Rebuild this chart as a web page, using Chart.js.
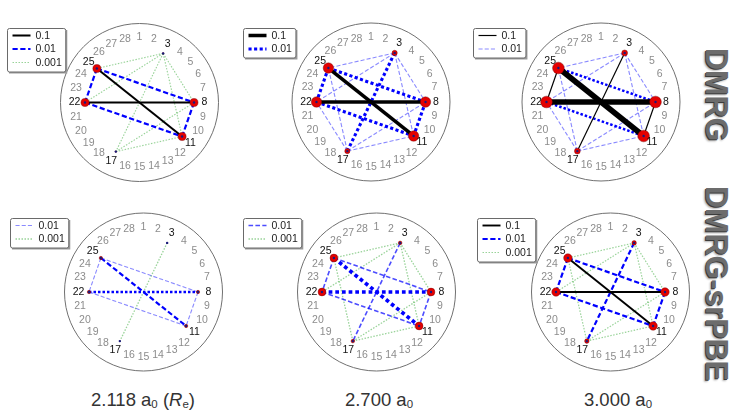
<!DOCTYPE html>
<html>
<head>
<meta charset="utf-8">
<script src="https://cdn.jsdelivr.net/npm/chart.js@4.4.0/dist/chart.umd.min.js"></script>
<style>
  html, body { margin: 0; padding: 0; background: #fff; }
  #wrap { position: relative; width: 732px; height: 410px; overflow: hidden; }
  #wrap canvas { position: absolute; }
  .side { position: absolute; font: bold 30.5px "Liberation Sans", Arial, sans-serif; line-height: 1; color: #6c6c6c;
          transform-origin: 0 0; transform: rotate(90deg); white-space: nowrap;
          text-shadow: 1px 1px 0 #3c3c3c, 2px 2px 2px #b0b0b0; }
  .dist { position: absolute; top: 389px; font: 18.5px "Liberation Sans", Arial, sans-serif; color: #333;
          transform: translateX(-50%); white-space: nowrap; }
  .dist sub { font-size: 62%; vertical-align: -2px; }
</style>
</head>
<body>
<div id="wrap">
  <div class="side" style="left:732px;top:48px">DMRG</div>
  <div class="side" style="left:732px;top:186px">DMRG-srPBE</div>
  <div class="dist" style="left:143px">2.118 a<sub>0</sub> (<i>R</i><sub>e</sub>)</div>
  <div class="dist" style="left:379px">2.700 a<sub>0</sub></div>
  <div class="dist" style="left:618px">3.000 a<sub>0</sub></div>
</div>
<script>
/* ===== Orbital-pair mutual information diagrams (6 panels) ===== */
const N_ORB = 28;
const active = [3, 8, 11, 17, 22, 25];
const thresholds = [0.1, 0.01, 0.001];
const thrLabels = ["0.1", "0.01", "0.001"];

// single-orbital entropies, same order as `active`
const S_dmrg_2118 = [0.12, 0.62, 0.62, 0.12, 0.62, 0.62];
const S_dmrg_2700 = [0.40, 0.80, 0.80, 0.40, 0.80, 0.80];
const S_dmrg_3000 = [0.45, 0.90, 0.90, 0.45, 0.90, 0.90];
const S_sr_2118   = [0.05, 0.26, 0.26, 0.05, 0.26, 0.26];
const S_sr_2700   = [0.28, 0.60, 0.60, 0.28, 0.60, 0.60];
const S_sr_3000   = [0.35, 0.65, 0.65, 0.35, 0.65, 0.65];

// mutual information [orbital i, orbital j, I_ij]
const I_dmrg_2118 = [
  [22, 8, 0.27], [25, 11, 0.27],
  [25, 22, 0.03], [25, 8, 0.03], [22, 11, 0.03], [8, 11, 0.03],
  [3, 25, 0.0012], [3, 22, 0.0012], [3, 8, 0.0012], [3, 11, 0.0012], [3, 17, 0.0012], [17, 8, 0.0012], [17, 11, 0.0012],
];
const I_dmrg_2700 = [
  [22, 8, 0.52], [25, 11, 0.52],
  [3, 17, 0.045], [25, 22, 0.045], [25, 8, 0.045], [22, 11, 0.045], [8, 11, 0.045],
  [3, 25, 0.012], [3, 22, 0.012], [3, 8, 0.012], [3, 11, 0.012], [17, 25, 0.012], [17, 22, 0.012], [17, 8, 0.012], [17, 11, 0.012],
];
const I_dmrg_3000 = [
  [3, 17, 0.13], [22, 8, 0.85], [25, 11, 0.85], [25, 22, 0.13], [8, 11, 0.13],
  [3, 25, 0.012], [25, 8, 0.035], [22, 11, 0.035], [3, 22, 0.012], [3, 8, 0.012], [3, 11, 0.012],
  [17, 25, 0.012], [17, 22, 0.012], [17, 8, 0.012], [17, 11, 0.012],
];
const I_sr_2118 = [
  [25, 22, 0.012], [22, 8, 0.035], [25, 11, 0.03], [25, 8, 0.012], [22, 11, 0.012], [8, 11, 0.012],
  [3, 17, 0.0015],
];
const I_sr_2700 = [
  [25, 22, 0.02], [22, 8, 0.055], [25, 11, 0.055], [25, 8, 0.02], [22, 11, 0.02], [8, 11, 0.02], [3, 17, 0.02],
  [3, 25, 0.0015], [3, 22, 0.0015], [3, 8, 0.0015], [3, 11, 0.0015], [17, 25, 0.0015], [17, 8, 0.0015], [17, 11, 0.0015],
];
const I_sr_3000 = [
  [22, 8, 0.25], [25, 11, 0.25],
  [25, 22, 0.03], [25, 8, 0.03], [22, 11, 0.03], [8, 11, 0.03], [3, 17, 0.03],
  [3, 25, 0.0013], [3, 22, 0.0013], [3, 8, 0.0013], [3, 11, 0.0013], [17, 25, 0.0013], [17, 8, 0.0013], [17, 11, 0.0013],
];

// layout: canvas box, circle centre, legend x (all px)
const panels = [
  { I: I_dmrg_2118, S: S_dmrg_2118, left: 0,   top: 0,   w: 235, h: 190, cx: 139.5, cy: 102.5, lx: 7 },
  { I: I_dmrg_2700, S: S_dmrg_2700, left: 235, top: 0,   w: 235, h: 190, cx: 371,   cy: 102,   lx: 8 },
  { I: I_dmrg_3000, S: S_dmrg_3000, left: 470, top: 0,   w: 225, h: 190, cx: 601,   cy: 102,   lx: 3 },
  { I: I_sr_2118,   S: S_sr_2118,   left: 0,   top: 190, w: 235, h: 190, cx: 143.5, cy: 292,   lx: 10 },
  { I: I_sr_2700,   S: S_sr_2700,   left: 235, top: 190, w: 235, h: 190, cx: 376.5, cy: 292,   lx: 8 },
  { I: I_sr_3000,   S: S_sr_3000,   left: 470, top: 190, w: 225, h: 190, cx: 610.5, cy: 292,   lx: 7 },
];

const R_PX = 79;          // outer circle radius
const R_NODE = 0.69;      // orbital dots (fraction of outer radius)
const R_LABEL = 0.823;    // orbital numbers
const FONT = '"Liberation Sans", Arial, sans-serif';

const pos = (o, r) => {
  const t = (o - 1) * 2 * Math.PI / N_ORB;
  return { x: r * Math.sin(t), y: r * Math.cos(t) };
};

function edgeStyle(I) {
  const k = I >= thresholds[0] ? 0 : I >= thresholds[1] ? 1 : 2;
  const r = I / thresholds[k];
  const w = 0.4 + 0.6 * r;
  if (k === 0) return { k, w, color: "#000", dash: [] };
  if (k === 1) {
    const a = Math.min(1, 0.1 + 0.3 * r);
    return { k, w, color: `rgba(0,0,255,${a})`, dash: w >= 2.4 ? [w, w * 0.8] : [3 + w, 1.5 + w * 0.5] };
  }
  return { k, w, color: "rgba(70,175,70,0.55)", dash: [1.5, 1.5] };
}

const decor = {
  id: "decor",
  beforeDatasetsDraw(chart) {
    const { ctx, scales: { x, y } } = chart;
    const cx = x.getPixelForValue(0), cy = y.getPixelForValue(0);
    ctx.save();
    ctx.beginPath();
    ctx.arc(cx, cy, x.getPixelForValue(1) - cx, 0, 2 * Math.PI);
    ctx.strokeStyle = "#707070"; ctx.lineWidth = 1; ctx.stroke();
    ctx.restore();
  },
  afterDatasetsDraw(chart, args, opts) {
    const { ctx, scales: { x, y } } = chart;
    ctx.save();
    ctx.font = `10.5px ${FONT}`;
    ctx.textAlign = "center"; ctx.textBaseline = "middle";
    for (let o = 1; o <= N_ORB; o++) {
      const p = pos(o, R_LABEL);
      ctx.fillStyle = active.includes(o) ? "#111" : "#8c8c8c";
      ctx.fillText(String(o), x.getPixelForValue(p.x), y.getPixelForValue(p.y));
    }
    // legend: one entry per threshold class, styled like its first edge
    const entries = [];
    thresholds.forEach((t, k) => {
      const e = opts.edges.find((d) => edgeStyle(d[2]).k === k);
      if (e) entries.push({ label: thrLabels[k], st: edgeStyle(e[2]) });
    });
    ctx.textAlign = "left";
    const tw = Math.max(...entries.map((e) => ctx.measureText(e.label).width));
    const bx = opts.lx + 0.5, by = 28.5, bw = 28 + tw + 4, bh = 14 * entries.length + 1.5;
    ctx.fillStyle = "#9a9a9a";
    ctx.fillRect(bx + 1.5, by + 1.5, bw, bh);
    ctx.beginPath(); ctx.roundRect(bx, by, bw, bh, 2);
    ctx.fillStyle = "#fff"; ctx.fill();
    ctx.strokeStyle = "#6a6a6a"; ctx.lineWidth = 1; ctx.stroke();
    entries.forEach((e, i) => {
      const ry = by + 7 + 13.5 * i;
      ctx.beginPath(); ctx.moveTo(bx + 5, ry); ctx.lineTo(bx + 23, ry);
      ctx.setLineDash(e.st.dash); ctx.lineWidth = e.st.w; ctx.strokeStyle = e.st.color; ctx.stroke();
      ctx.setLineDash([]);
      ctx.fillStyle = "#222";
      ctx.fillText(e.label, bx + 28, ry + 0.5);
    });
    ctx.restore();
  },
};

const wrap = document.getElementById("wrap");
panels.forEach((p) => {
  const cv = document.createElement("canvas");
  cv.width = p.w; cv.height = p.h;
  cv.style.left = p.left + "px"; cv.style.top = p.top + "px";
  wrap.appendChild(cv);

  const nodes = active.map((o) => pos(o, R_NODE));
  const datasets = [
    { data: nodes, pointRadius: 1.2, backgroundColor: "#1a1a7a", borderWidth: 0, order: 0 },
    { data: nodes, pointRadius: p.S.map((s) => 6.5 * s), backgroundColor: "#e40000",
      borderColor: "rgba(110,0,0,.7)", borderWidth: 0.6, order: 0 },
  ];
  p.I.forEach(([a, b, I]) => {
    const st = edgeStyle(I);
    datasets.push({ data: [pos(a, R_NODE), pos(b, R_NODE)], showLine: true, pointRadius: 0,
      borderColor: st.color, borderWidth: st.w, borderDash: st.dash, order: 1 });
  });

  new Chart(cv, {
    type: "scatter",
    data: { datasets },
    options: {
      responsive: false, animation: false, events: [], devicePixelRatio: 1,
      layout: { padding: 0, autoPadding: false },
      plugins: { legend: { display: false }, tooltip: { enabled: false }, decor: { edges: p.I, lx: p.lx } },
      scales: {
        x: { type: "linear", display: false, min: -(p.cx - p.left) / R_PX, max: (p.left + p.w - p.cx) / R_PX },
        y: { type: "linear", display: false, min: -(p.top + p.h - p.cy) / R_PX, max: (p.cy - p.top) / R_PX },
      },
    },
    plugins: [decor],
  });
});
</script>
</body>
</html>
